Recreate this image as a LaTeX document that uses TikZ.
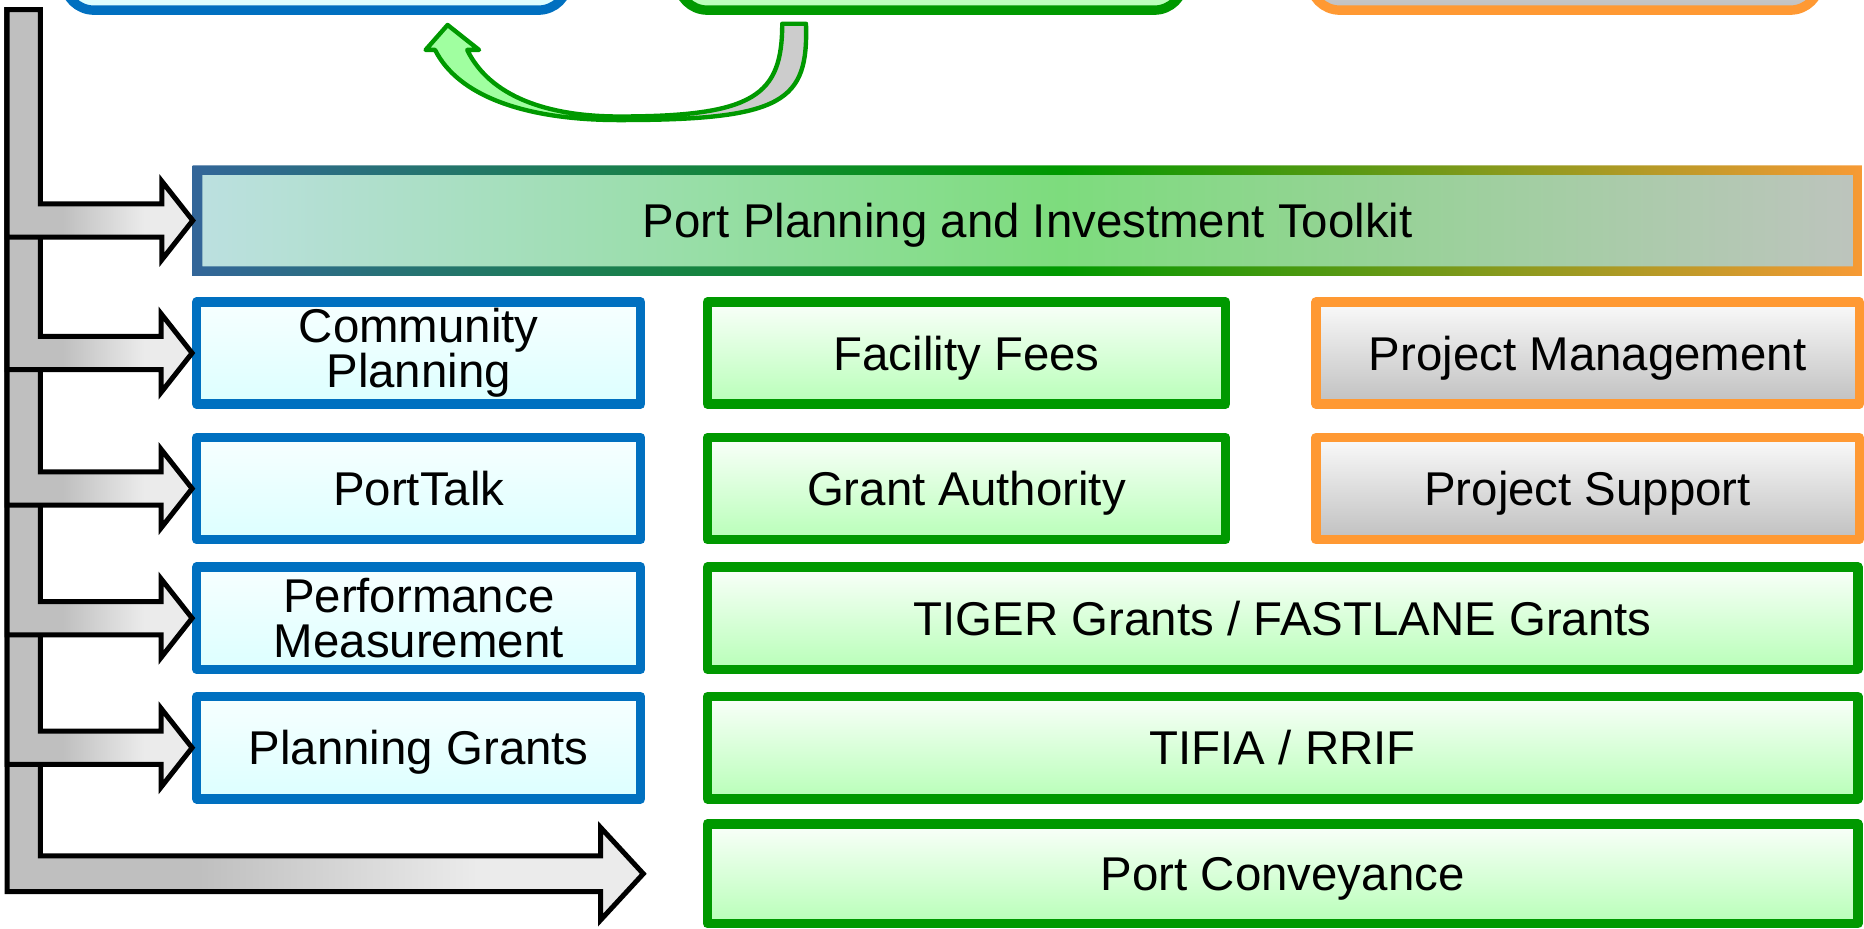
\documentclass[tikz,border=0pt]{standalone}
\usepackage{fontspec}
\setmainfont{Liberation Sans}
\usetikzlibrary{calc}

\definecolor{blueline}{HTML}{0070C0}
\definecolor{bluetop}{HTML}{F7FFFF}
\definecolor{bluebot}{HTML}{DCFFFF}
\definecolor{greenline}{HTML}{009900}
\definecolor{greentop}{HTML}{FAFFFA}
\definecolor{greenbot}{HTML}{B8FFB8}
\definecolor{orangeline}{HTML}{FF9933}
\definecolor{orangetop}{HTML}{FAFAFA}
\definecolor{orangebot}{HTML}{C0C0C0}
\definecolor{kblue}{HTML}{336699}
\definecolor{kgreen}{HTML}{009900}
\definecolor{korange}{HTML}{F79A35}
\definecolor{kfl}{HTML}{BCE0E0}
\definecolor{kfm}{HTML}{7DDC7D}
\definecolor{kfr}{HTML}{BDC4BD}
\definecolor{bargray}{HTML}{BFBFBF}
\definecolor{barlight}{HTML}{EBEBEB}
\definecolor{loopgreen}{HTML}{A0FFA0}
\definecolor{loopgray}{HTML}{CCCCCC}

\pgfdeclarehorizontalshading{kitborder}{100bp}{color(0bp)=(kblue); color(25bp)=(kblue); color(51bp)=(kgreen); color(75bp)=(korange); color(100bp)=(korange)}
\pgfdeclarehorizontalshading{kitfill}{100bp}{color(0bp)=(kfl); color(25bp)=(kfl); color(51bp)=(kfm); color(75bp)=(kfr); color(100bp)=(kfr)}
\pgfdeclarehorizontalshading{barshade}{100bp}{color(0bp)=(bargray); color(40bp)=(bargray); color(62bp)=(barlight); color(100bp)=(barlight)}
\pgfdeclarehorizontalshading{loopshade}{100bp}{color(0bp)=(loopgreen); color(48bp)=(loopgreen); color(60bp)=(loopgray); color(100bp)=(loopgray)}

\tikzset{
  box/.style={rectangle, inner sep=0pt, line width=4.5pt, line join=round, align=center,
    font=\fontsize{22.7}{21.5}\selectfont},
  onel/.style={text height=16.3pt, text depth=0pt},
  bluebox/.style={box, draw=blueline, top color=bluetop, bottom color=bluebot},
  greenbox/.style={box, draw=greenline, top color=greentop, bottom color=greenbot},
  orangebox/.style={box, draw=orangeline, top color=orangetop, bottom color=orangebot},
  topbox/.style={rounded corners=0.5cm, minimum height=2.17cm},
  colA/.style={minimum width=7.47cm, minimum height=1.72cm},
  colB/.style={minimum width=8.72cm, minimum height=1.72cm},
  colC/.style={minimum width=9.14cm, minimum height=1.72cm},
  wide/.style={minimum width=19.36cm, minimum height=1.72cm},
  grayarrow/.style={shading=barshade, draw=black, line width=2.4pt, line join=miter},
  loopline/.style={shading=loopshade, draw=greenline, line width=2.1pt, line join=round}
}

% L shaped arrow from the bar to #1: shaft half, head half, head length
\newcommand{\branch}[4]{%
  \coordinate (st) at ($(#1)+(0,-#2)$);
  \coordinate (sb) at ($(#1)+(0,#2)$);
  \draw[grayarrow] (bartl) -- (bartr) -- (bartr |- st) -- ($(st)+(-#4,0)$)
    -- ($(#1)+(-#4,-#3)$) -- (#1) -- ($(#1)+(-#4,#3)$)
    -- ($(sb)+(-#4,0)$) -- (bartl |- sb) -- cycle;
}

\begin{document}
\begin{tikzpicture}[x=0.02cm,y=-0.02cm]
        \useasboundingbox (0,0) rectangle (1568,781);
        \clip (0,0) rectangle (1568,781);

        %top boxes, cut by the page edge
        \node[bluebox,topbox,minimum width=8.48cm] (tb) at (266,-45.7) {};
        \node[greenbox,topbox,minimum width=8.52cm] (tg) at (783,-45.7) {};
        \node[orangebox,topbox,minimum width=8.58cm] (to) at (1316.5,-45.7) {};

        %toolkit bar
        \node[box, shading=kitfill, outer sep=0.08cm, minimum width=27.94cm, minimum height=1.7cm, onel] (kit) at (864.5,185.5) {Port Planning and Investment Toolkit};
        \path[shading=kitborder, even odd rule] (kit.south west) rectangle (kit.north east)
            ($(kit.south west)+(8,-8)$) rectangle ($(kit.north east)+(-8,8)$);

        %boxes
        \node[bluebox,colA] (cp) at (352.25,297) {Community\\Planning};
        \node[bluebox,colA,onel] (pt) at (352.25,411) {PortTalk};
        \node[bluebox,colA] (pm) at (352.25,520) {Performance\\Measurement};
        \node[bluebox,colA,onel] (pg) at (352.25,629) {Planning Grants};
        \node[greenbox,colB,onel] (ff) at (813,297) {Facility Fees};
        \node[greenbox,colB,onel] (ga) at (813,411) {Grant Authority};
        \node[orangebox,colC,onel] (pmg) at (1335.5,297) {Project Management};
        \node[orangebox,colC,onel] (ps) at (1335.5,411) {Project Support};
        \node[greenbox,wide,onel] (tig) at (1079,520) {TIGER Grants / FASTLANE Grants};
        \node[greenbox,wide,onel] (tf) at (1079,629) {TIFIA / RRIF};
        \node[greenbox,wide,onel,minimum height=1.68cm] (pc) at (1079,735) {Port Conveyance};

        %bar and arrows, lowest first
        \coordinate (bartl) at (6,8);
        \coordinate (bartr) at (34,8);
        \coordinate (pctip) at ($(pc.west)+(-50,0)$);
        \branch{pctip}{15}{39}{36}
        \branch{pg.west}{14}{33}{26}
        \branch{pm.west}{14}{33}{26}
        \branch{pt.west}{14}{33}{26}
        \branch{cp.west}{14}{33}{26}
        \branch{kit.west}{14}{33}{26}

        %curved arrow between the top boxes
        \draw[loopline] (658,20) -- (678,20) .. controls (680,85) and (660,101) .. (521,101)
            .. controls (440,101) and (385,80) .. (366,42) -- (358,42) -- (376.5,21) -- (403,42)
            -- (393,42) .. controls (412,81) and (460,98) .. (521,98)
            .. controls (635,98) and (658,80) .. (658,20) -- cycle;
\end{tikzpicture}
\end{document}
